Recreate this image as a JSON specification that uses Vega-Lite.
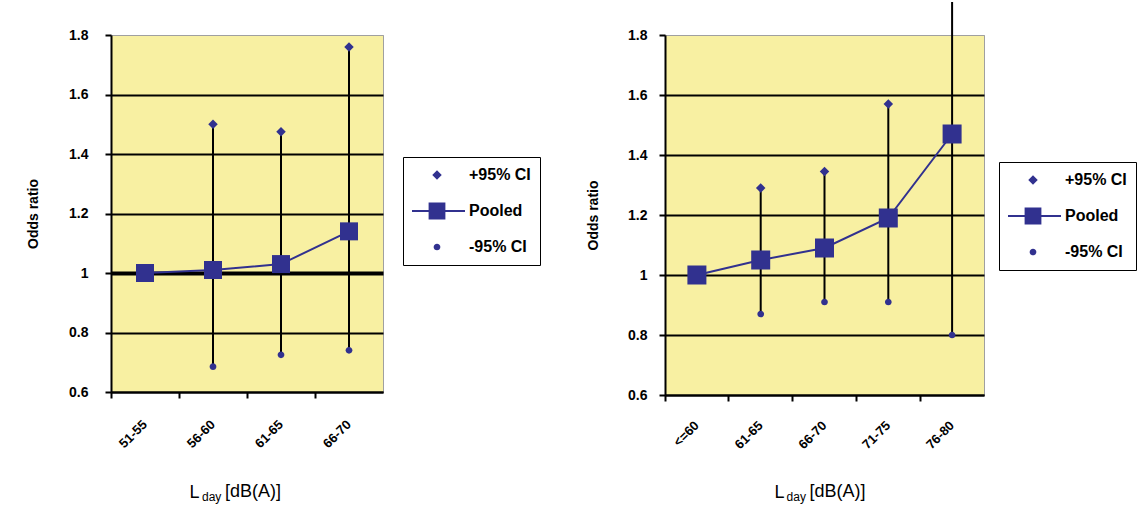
{
  "$schema": "https://vega.github.io/schema/vega-lite/v6.json",
  "background": "white",
  "padding": {"left": 26, "top": 0, "right": 0, "bottom": 0},
  "autosize": {"type": "pad"},
  "datasets": {
    "noise1": [
      {"band": "51-55", "pooled": 1.0, "upper": null, "lower": null},
      {"band": "56-60", "pooled": 1.01, "upper": 1.50, "lower": 0.685},
      {"band": "61-65", "pooled": 1.03, "upper": 1.475, "lower": 0.725},
      {"band": "66-70", "pooled": 1.14, "upper": 1.76, "lower": 0.74}
    ],
    "noise2": [
      {"band": "<=60", "pooled": 1.0, "upper": null, "lower": null},
      {"band": "61-65", "pooled": 1.05, "upper": 1.29, "lower": 0.87},
      {"band": "66-70", "pooled": 1.09, "upper": 1.345, "lower": 0.91},
      {"band": "71-75", "pooled": 1.19, "upper": 1.57, "lower": 0.91},
      {"band": "76-80", "pooled": 1.47, "upper": 1.91, "lower": 0.80}
    ]
  },
  "spacing": 45,
  "resolve": {"scale": {"shape": "independent", "x": "independent", "y": "independent"}, "legend": {"shape": "independent"}},
  "hconcat": [
    {
      "width": 272,
      "height": 357,
      "data": {"name": "noise1"},
      "encoding": {
        "x": {
          "field": "band", "type": "nominal", "sort": null,
          "scale": {"domain": ["51-55", "56-60", "61-65", "66-70"], "paddingInner": 0, "paddingOuter": 0},
          "axis": {
            "bandPosition": 0, "labelAngle": -45, "labelAlign": "right", "labelBaseline": "middle",
            "labelPadding": 24, "labelFontSize": 13, "labelFontWeight": "bold", "labelOverlap": false,
            "tickSize": 6, "tickWidth": 2, "tickColor": "black", "domainColor": "black", "domainWidth": 2,
            "grid": false,
            "title": "L", "titleFontSize": 18, "titleFontWeight": "normal",
            "titleX": 78, "titleY": 105, "titleAlign": "left", "titleBaseline": "alphabetic"
          }
        }
      },
      "layer": [
        {
          "mark": {"type": "rule", "color": "black", "strokeWidth": 2},
          "encoding": {
            "y": {
              "field": "lower", "type": "quantitative",
              "scale": {"domain": [0.6, 1.8], "nice": false, "zero": false},
              "axis": {
                "title": "Odds ratio", "values": [0.6, 0.8, 1, 1.2, 1.4, 1.6, 1.8], "format": "~g",
                "grid": true,
                "gridColor": {"condition": {"test": "datum.value >= 1.8", "value": "#a0a0a0"}, "value": "black"},
                "gridWidth": {"condition": [{"test": "datum.value >= 1.8", "value": 1}, {"test": "datum.value == 1", "value": 4}], "value": 2},
                "domainColor": "black", "domainWidth": 2, "tickColor": "black", "tickWidth": 2, "tickSize": 6,
                "labelFontSize": 14, "labelFontWeight": "bold", "labelPadding": 17,
                "titlePadding": 28, "titleFontSize": 14, "titleFontWeight": "bold"
              }
            },
            "y2": {"field": "upper"}
          }
        },
        {
          "mark": {"type": "line", "color": "#31318F", "strokeWidth": 2},
          "encoding": {"y": {"field": "pooled", "type": "quantitative"}}
        },
        {
          "mark": {"type": "point", "shape": "square", "filled": true, "size": 324, "color": "#31318F", "opacity": 1},
          "encoding": {"y": {"field": "pooled", "type": "quantitative"}}
        },
        {
          "transform": [
            {"fold": ["upper", "lower"], "as": ["series", "value"]},
            {"filter": "isValid(datum.value)"}
          ],
          "mark": {"type": "point", "filled": true, "clip": true, "color": "#31318F", "opacity": 1, "size": 3136},
          "encoding": {
            "y": {"field": "value", "type": "quantitative"},
            "shape": {
              "field": "series", "type": "nominal",
              "scale": {
                "domain": ["upper", "pooled", "lower"],
                "range": [
                  "M0,-0.17L0.17,0L0,0.17L-0.17,0Z",
                  "M-1,-0.036H1V0.036H-1Z M-0.3,-0.3H0.3V0.3H-0.3Z",
                  "M0.12,0A0.12,0.12,0,1,1,-0.12,0A0.12,0.12,0,1,1,0.12,0Z"
                ]
              },
              "legend": {
                "title": null, "orient": "none", "legendX": 292, "legendY": 122,
                "labelExpr": "datum.label == 'upper' ? '+95% CI' : datum.label == 'pooled' ? 'Pooled' : '-95% CI'",
                "symbolSize": 3136, "symbolOffset": -3, "labelOffset": 4, "clipHeight": 18, "rowPadding": 18, "padding": 9,
                "symbolFillColor": "#31318F", "symbolStrokeWidth": 0, "symbolOpacity": 1,
                "labelFontSize": 16, "labelFontWeight": "bold", "labelColor": "black",
                "strokeColor": "black", "fillColor": "white"
              }
            }
          }
        },
        {
          "data": {"values": [{}]},
          "mark": {"type": "text", "text": "day", "fontSize": 12, "align": "left", "baseline": "alphabetic", "dx": -45, "dy": 109, "color": "black"},
          "encoding": {"x": {"datum": "61-65", "bandPosition": 0}, "y": {"datum": 0.6}}
        },
        {
          "data": {"values": [{}]},
          "mark": {"type": "text", "text": "[dB(A)]", "fontSize": 18, "align": "left", "baseline": "alphabetic", "dx": -22, "dy": 105, "color": "black"},
          "encoding": {"x": {"datum": "61-65", "bandPosition": 0}, "y": {"datum": 0.6}}
        }
      ]
    },
    {
      "width": 319,
      "height": 360,
      "data": {"name": "noise2"},
      "encoding": {
        "x": {
          "field": "band", "type": "nominal", "sort": null,
          "scale": {"domain": ["<=60", "61-65", "66-70", "71-75", "76-80"], "paddingInner": 0, "paddingOuter": 0},
          "axis": {
            "bandPosition": 0, "labelAngle": -45, "labelAlign": "right", "labelBaseline": "middle",
            "labelPadding": 22, "labelFontSize": 13, "labelFontWeight": "bold", "labelOverlap": false,
            "tickSize": 6, "tickWidth": 2, "tickColor": "black", "domainColor": "black", "domainWidth": 2,
            "grid": false,
            "title": "L", "titleFontSize": 18, "titleFontWeight": "normal",
            "titleX": 109, "titleY": 102, "titleAlign": "left", "titleBaseline": "alphabetic"
          }
        }
      },
      "layer": [
        {
          "mark": {"type": "rule", "color": "black", "strokeWidth": 2},
          "encoding": {
            "y": {
              "field": "lower", "type": "quantitative",
              "scale": {"domain": [0.6, 1.8], "nice": false, "zero": false},
              "axis": {
                "title": "Odds ratio", "values": [0.6, 0.8, 1, 1.2, 1.4, 1.6, 1.8], "format": "~g",
                "grid": true,
                "gridColor": {"condition": {"test": "datum.value >= 1.8", "value": "#a0a0a0"}, "value": "black"},
                "gridWidth": {"condition": {"test": "datum.value >= 1.8", "value": 1}, "value": 2},
                "domainColor": "black", "domainWidth": 2, "tickColor": "black", "tickWidth": 2, "tickSize": 6,
                "labelFontSize": 14, "labelFontWeight": "bold", "labelPadding": 12,
                "titlePadding": 27, "titleFontSize": 14, "titleFontWeight": "bold"
              }
            },
            "y2": {"field": "upper"}
          }
        },
        {
          "mark": {"type": "line", "color": "#31318F", "strokeWidth": 2},
          "encoding": {"y": {"field": "pooled", "type": "quantitative"}}
        },
        {
          "mark": {"type": "point", "shape": "square", "filled": true, "size": 361, "color": "#31318F", "opacity": 1},
          "encoding": {"y": {"field": "pooled", "type": "quantitative"}}
        },
        {
          "transform": [
            {"fold": ["upper", "lower"], "as": ["series", "value"]},
            {"filter": "isValid(datum.value)"}
          ],
          "mark": {"type": "point", "filled": true, "clip": true, "color": "#31318F", "opacity": 1, "size": 3136},
          "encoding": {
            "y": {"field": "value", "type": "quantitative"},
            "shape": {
              "field": "series", "type": "nominal",
              "scale": {
                "domain": ["upper", "pooled", "lower"],
                "range": [
                  "M0,-0.17L0.17,0L0,0.17L-0.17,0Z",
                  "M-1,-0.036H1V0.036H-1Z M-0.3,-0.3H0.3V0.3H-0.3Z",
                  "M0.12,0A0.12,0.12,0,1,1,-0.12,0A0.12,0.12,0,1,1,0.12,0Z"
                ]
              },
              "legend": {
                "title": null, "orient": "none", "legendX": 334, "legendY": 127,
                "labelExpr": "datum.label == 'upper' ? '+95% CI' : datum.label == 'pooled' ? 'Pooled' : '-95% CI'",
                "symbolSize": 3136, "symbolOffset": -3, "labelOffset": 4, "clipHeight": 18, "rowPadding": 18, "padding": 9,
                "symbolFillColor": "#31318F", "symbolStrokeWidth": 0, "symbolOpacity": 1,
                "labelFontSize": 16, "labelFontWeight": "bold", "labelColor": "black",
                "strokeColor": "black", "fillColor": "white"
              }
            }
          }
        },
        {
          "data": {"values": [{}]},
          "mark": {"type": "text", "text": "day", "fontSize": 12, "align": "left", "baseline": "alphabetic", "dx": -6, "dy": 106, "color": "black"},
          "encoding": {"x": {"datum": "66-70", "bandPosition": 0}, "y": {"datum": 0.6}}
        },
        {
          "data": {"values": [{}]},
          "mark": {"type": "text", "text": "[dB(A)]", "fontSize": 18, "align": "left", "baseline": "alphabetic", "dx": 17, "dy": 102, "color": "black"},
          "encoding": {"x": {"datum": "66-70", "bandPosition": 0}, "y": {"datum": 0.6}}
        }
      ]
    }
  ],
  "config": {
    "font": "Liberation Sans",
    "view": {"stroke": "#a0a0a0", "strokeWidth": 1, "fill": "#F8F0A2"},
    "axis": {"labelColor": "black", "titleColor": "black", "labelFont": "Liberation Sans", "titleFont": "Liberation Sans"},
    "legend": {"labelFont": "Liberation Sans"}
  }
}
